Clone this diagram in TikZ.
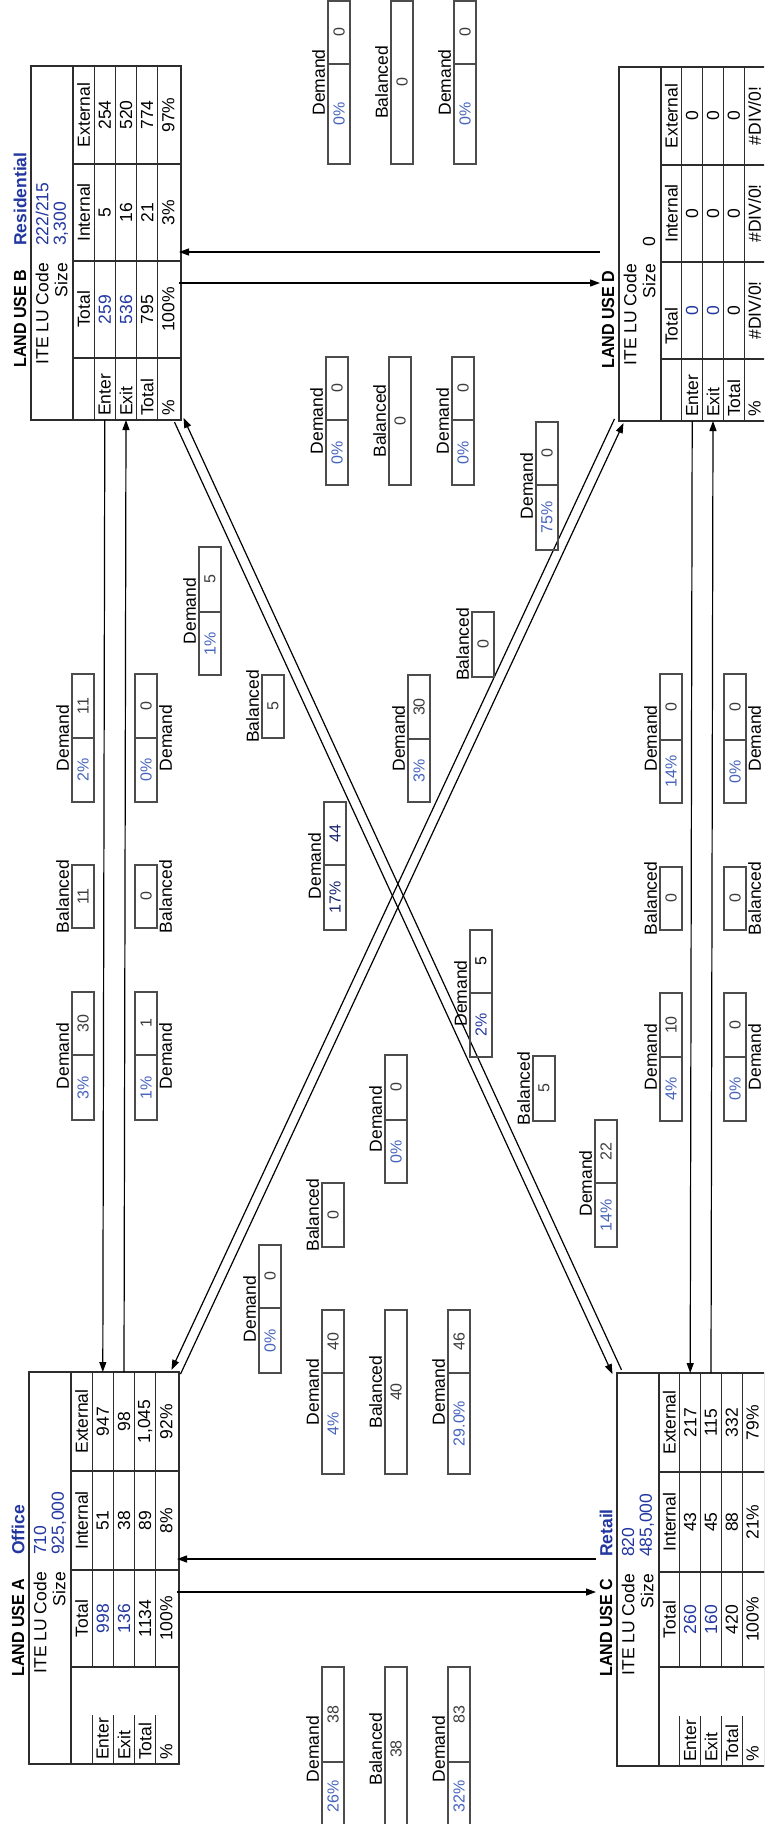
\documentclass[tikz,border=0pt]{standalone}
\usepackage{fontspec}
\usepackage{graphicx}
\setmainfont{Liberation Sans}
\usetikzlibrary{arrows.meta}
\definecolor{valblue}{RGB}{35,55,160}
\definecolor{pctblue}{RGB}{70,100,190}
\definecolor{numgray}{RGB}{60,60,60}
\definecolor{linegray}{RGB}{45,45,45}
\definecolor{navy}{RGB}{25,35,110}
\tikzset{
  txt/.style={rotate=90, inner sep=0pt, font=\fontsize{17.5}{19}\selectfont},
  sml/.style={rotate=90, inner sep=0pt, font=\fontsize{16}{17}\selectfont},
  ttl/.style={txt, font=\fontsize{17.5}{19}\selectfont\bfseries},
  nm/.style={ttl, text=valblue},
  val/.style={txt, text=valblue},
  tbl/.style={draw=linegray, line width=1.1pt},
  dbox/.style={draw=linegray!85, line width=1.2pt},
  arr/.style={draw=black, line width=1.2pt, -{Triangle[length=10pt,width=7pt]}},
}
\def\rowh{21.2}
% ---------- land-use table ----------
\newcommand\LUframe[7]{%
 \pgfmathsetmacro\gL{#1}\pgfmathsetmacro\gT{#2}\pgfmathsetmacro\gCa{#3}%
 \pgfmathsetmacro\gCb{#4}\pgfmathsetmacro\gCc{#5}\pgfmathsetmacro\gLB{#6}\pgfmathsetmacro\gBt{#7}%
 \pgfmathsetmacro\gTD{#1+42}%
 \pgfmathsetmacro\gRa{\gTD+\rowh}\pgfmathsetmacro\gRb{\gTD+2*\rowh}%
 \pgfmathsetmacro\gRc{\gTD+3*\rowh}\pgfmathsetmacro\gRd{\gTD+4*\rowh}\pgfmathsetmacro\gR{\gTD+5*\rowh+2}%
 \draw[tbl] (\gL,\gT) rectangle (\gR,\gBt);
 \draw[tbl] (\gTD,\gT) -- (\gTD,\gBt);
 \foreach \vv in {\gCa,\gCb,\gCc} {\draw[tbl] (\gTD,\vv) -- (\gR,\vv);}
 \foreach \ww in {\gRa,\gRb,\gRc,\gRd} {\draw[tbl] (\ww,\gT) -- (\ww,\gCc); \draw[tbl] (\ww,\gLB) -- (\ww,\gBt);}
 \pgfmathsetmacro\xH{\gTD+0.5*\rowh}\pgfmathsetmacro\xEn{\gTD+1.5*\rowh}\pgfmathsetmacro\xEx{\gTD+2.5*\rowh}%
 \pgfmathsetmacro\xTo{\gTD+3.5*\rowh}\pgfmathsetmacro\xPc{\gTD+4.5*\rowh}%
 \pgfmathsetmacro\yE{(#2+#3)/2}\pgfmathsetmacro\yI{(#3+#4)/2}\pgfmathsetmacro\yT{(#4+#5)/2}%
 \pgfmathsetmacro\xTi{#1-11}\pgfmathsetmacro\xCo{#1+11}\pgfmathsetmacro\xSz{#1+30}%
}
\newcommand\LUhead[5]{%
 \node[ttl,anchor=west] (#1-ttl) at (\xTi,\gCc+10) {\scalebox{0.92}[1]{LAND USE #2}};
 \node[nm,anchor=west] (#1-nm) at (\xTi,\gCb-15) {#3};
 \node[txt,anchor=east] (#1-ite) at (\xCo,\gCb+2) {ITE LU Code};
 \node[val,anchor=west] (#1-code) at (\xCo,\gCb-15) {#4};
 \node[txt,anchor=east] (#1-sz) at (\xSz,\gCb+2) {Size};
 \node[val,anchor=west] (#1-size) at (\xSz,\gCb-15) {#5};
 \node[txt] (#1-hI) at (\xH,\yI) {Internal};
 \node[txt] (#1-hE) at (\xH,\yE) {External};
}
\newcommand\LUrow[7]{%
 \node[txt] (#1-#2t) at (#3,\yT) {#4};
 \node[txt] (#1-#2i) at (#3,\yI) {#5};
 \node[txt] (#1-#2e) at (#3,\yE) {#6};
 \node[txt,anchor=west] (#1-#2l) at (#3,\gBt-4) {#7};
}
% ---------- demand / balanced boxes ----------
\newcommand\Dem[8]{%
 \draw[dbox] (#2,#3) rectangle (#2+22,#5);
 \draw[dbox] (#2,#4) -- (#2+22,#4);
 \node[sml,text=numgray] (#1n) at (#2+11,{(#3+#4)/2}) {#7};
 \node[sml,text=pctblue] (#1p) at (#2+11,{(#4+#5)/2}) {#6};
 \ifx l#8\node[txt] (#1l) at (#2-9.5,{(#3+#5)/2}) {Demand};%
 \else\node[txt] (#1l) at (#2+30.5,{(#3+#5)/2}) {Demand};\fi
}
\newcommand\Bal[6]{%
 \draw[dbox] (#2,#3) rectangle (#2+22,#4);
 \node[sml,text=numgray] (#1v) at (#2+11,{(#3+#4)/2}) {#5};
 \ifx l#6\node[txt] (#1l) at (#2-9.5,{(#3+#4)/2}) {Balanced};%
 \else\node[txt] (#1l) at (#2+30.5,{(#3+#4)/2}) {Balanced};\fi
}
\begin{document}
\begin{tikzpicture}[x=1pt,y=-1pt]
\useasboundingbox (0,0) rectangle (764,1824);
\clip (0,0) rectangle (764,1824);
\fill[white] (0,0) rectangle (764,1824);
% ===== LAND USE B =====
\LUframe{31}{66}{164}{261}{358}{358}{420}
\LUhead{B}{B}{Residential}{222/215}{3,300}
\node[txt] (B-hT) at (\xH,\yT) {Total};
\LUrow{B}{en}{\xEn}{\textcolor{valblue}{259}}{5}{254}{Enter}
\LUrow{B}{ex}{\xEx}{\textcolor{valblue}{536}}{16}{520}{Exit}
\LUrow{B}{to}{\xTo}{795}{21}{774}{Total}
\LUrow{B}{pc}{\xPc}{100\%}{3\%}{97\%}{\%}
% ===== LAND USE A =====
\LUframe{29}{1372}{1471}{1570}{1667}{1715}{1764}
\LUhead{A}{A}{Office}{710}{925,000}
\node[txt] (A-hT) at (\xH,\yT) {Total};
\LUrow{A}{en}{\xEn}{\textcolor{valblue}{998}}{51}{947}{Enter}
\LUrow{A}{ex}{\xEx}{\textcolor{valblue}{136}}{38}{98}{Exit}
\LUrow{A}{to}{\xTo}{1134}{89}{1,045}{Total}
\LUrow{A}{pc}{\xPc}{100\%}{8\%}{92\%}{\%}
% ===== right-hand boxes: slightly narrower rows =====
\def\rowh{20.8}
% ===== LAND USE D =====
\LUframe{619}{67}{165}{262}{359}{359}{421}
\LUhead{D}{D}{}{}{\textcolor{black}{0}}
\node[txt,anchor=west] (D-hT) at (\xH,\gCc-14) {Total};
\LUrow{D}{en}{\xEn}{\textcolor{valblue}{0}}{0}{0}{Enter}
\LUrow{D}{ex}{\xEx}{\textcolor{valblue}{0}}{0}{0}{Exit}
\LUrow{D}{to}{\xTo}{0}{0}{0}{Total}
\LUrow{D}{pc}{\xPc}{\#DIV/0!}{\#DIV/0!}{\#DIV/0!}{\%}
% ===== LAND USE C =====
\LUframe{617}{1373}{1472}{1572}{1667}{1716}{1766}
\LUhead{C}{C}{Retail}{820}{485,000}
\node[txt] (C-hT) at (\xH,\yT) {Total};
\LUrow{C}{en}{\xEn}{\textcolor{valblue}{260}}{43}{217}{Enter}
\LUrow{C}{ex}{\xEx}{\textcolor{valblue}{160}}{45}{115}{Exit}
\LUrow{C}{to}{\xTo}{420}{88}{332}{Total}
\LUrow{C}{pc}{\xPc}{100\%}{21\%}{79\%}{\%}
% ===== connector end points =====
\coordinate (BenB) at (104.8,420);  \coordinate (AenT) at (102.8,1372);
\coordinate (AexT) at (124,1372);   \coordinate (BexB) at (126,420);
\coordinate (DenB) at (692.2,421);  \coordinate (CenT) at (690.2,1373);
\coordinate (CexT) at (711,1373);   \coordinate (DexB) at (713,421);
\coordinate (BDb) at (179,252);     \coordinate (BDd) at (600,252);
\coordinate (BDb2) at (179,283);    \coordinate (BDd2) at (600,283);
\coordinate (ACa) at (177,1559);    \coordinate (ACc) at (596,1559);
\coordinate (ACa2) at (177,1592);   \coordinate (ACc2) at (596,1592);
\coordinate (BC1s) at (621.5,1369.9); \coordinate (BC1e) at (183.5,417.9);
\coordinate (BC2s) at (174.5,422.1);  \coordinate (BC2e) at (612.5,1374.1);
\coordinate (AD1s) at (180.5,1374.1); \coordinate (AD1e) at (623.5,423.1);
\coordinate (AD2s) at (614.5,418.9);  \coordinate (AD2e) at (171.5,1369.9);
% ===== connectors =====
\draw[arr] (BenB) -- (AenT);
\draw[arr] (AexT) -- (BexB);
\draw[arr] (DenB) -- (CenT);
\draw[arr] (CexT) -- (DexB);
\draw[arr] (BDd) -- (BDb);
\draw[arr] (BDb2) -- (BDd2);
\draw[arr] (ACc) -- (ACa);
\draw[arr] (ACa2) -- (ACc2);
\draw[arr] (BC1s) -- (BC1e);
\draw[arr] (BC2s) -- (BC2e);
\draw[arr] (AD1s) -- (AD1e);
\draw[arr] (AD2s) -- (AD2e);
% ===== demand / balanced boxes =====
% top set
\Dem{t1}{328}{1}{64}{164}{0\%}{0}{l}
\Bal{t2}{391}{1}{164}{0}{l}
\Dem{t3}{454}{1}{64}{164}{0\%}{0}{l}
% mid-top set
\Dem{m1}{326}{357}{420}{485}{0\%}{0}{l}
\Bal{m2}{389}{357}{485}{0}{l}
\Dem{m3}{452}{357}{420}{485}{0\%}{0}{l}
\Dem{s75}{536}{422}{485}{550}{75\%}{0}{l}
\Dem{s1}{199}{547}{612}{675}{1\%}{5}{l}
\Bal{b5}{262}{675}{738}{5}{l}
\Bal{b0a}{472}{612}{677}{0}{l}
\Dem{s3}{408}{675}{739}{802}{3\%}{30}{l}
% A-B lane
\Dem{l1}{72}{674}{738}{802}{2\%}{11}{l}
\Bal{l2}{72}{865}{928}{11}{l}
\Dem{l3}{72}{992}{1055}{1120}{3\%}{30}{l}
\Dem{r1}{135}{674}{738}{802}{0\%}{0}{r}
\Bal{r2}{135}{865}{928}{0}{r}
\Dem{r3}{135}{992}{1055}{1120}{1\%}{1}{r}
% C-D lane
\Dem{cl1}{660}{674}{740}{803}{14\%}{0}{l}
\Bal{cl2}{660}{867}{930}{0}{l}
\Dem{cl3}{660}{993}{1057}{1121}{4\%}{10}{l}
\Dem{cr1}{724}{674}{740}{803}{0\%}{0}{r}
\Bal{cr2}{724}{867}{930}{0}{r}
\Dem{cr3}{724}{993}{1057}{1121}{0\%}{0}{r}
% centre
\Dem{s17}{324}{802}{865}{930}{\textcolor{navy}{17\%}}{\textcolor{navy}{44}}{l}
\Dem{s2}{470}{930}{993}{1057}{\textcolor{valblue}{2\%}}{\textcolor{black}{5}}{l}
\Bal{b5b}{533}{1056}{1121}{5}{l}
\Dem{s14}{595}{1120}{1183}{1247}{14\%}{22}{l}
\Dem{s0a}{385}{1055}{1120}{1183}{0\%}{0}{l}
\Bal{b0b}{322}{1183}{1247}{0}{l}
\Dem{s0b}{259}{1245}{1308}{1373}{0\%}{0}{l}
% lower set
\Dem{q1}{322}{1310}{1373}{1474}{4\%}{40}{l}
\Bal{q2}{385}{1310}{1474}{40}{l}
\Dem{q3}{448}{1310}{1373}{1474}{29.0\%}{46}{l}
% bottom set
\Dem{z1}{322}{1667}{1762}{1831}{26\%}{38}{l}
\Bal{z2}{385}{1667}{1831}{38}{l}
\Dem{z3}{448}{1667}{1762}{1831}{32\%}{83}{l}
\end{tikzpicture}
\end{document}
